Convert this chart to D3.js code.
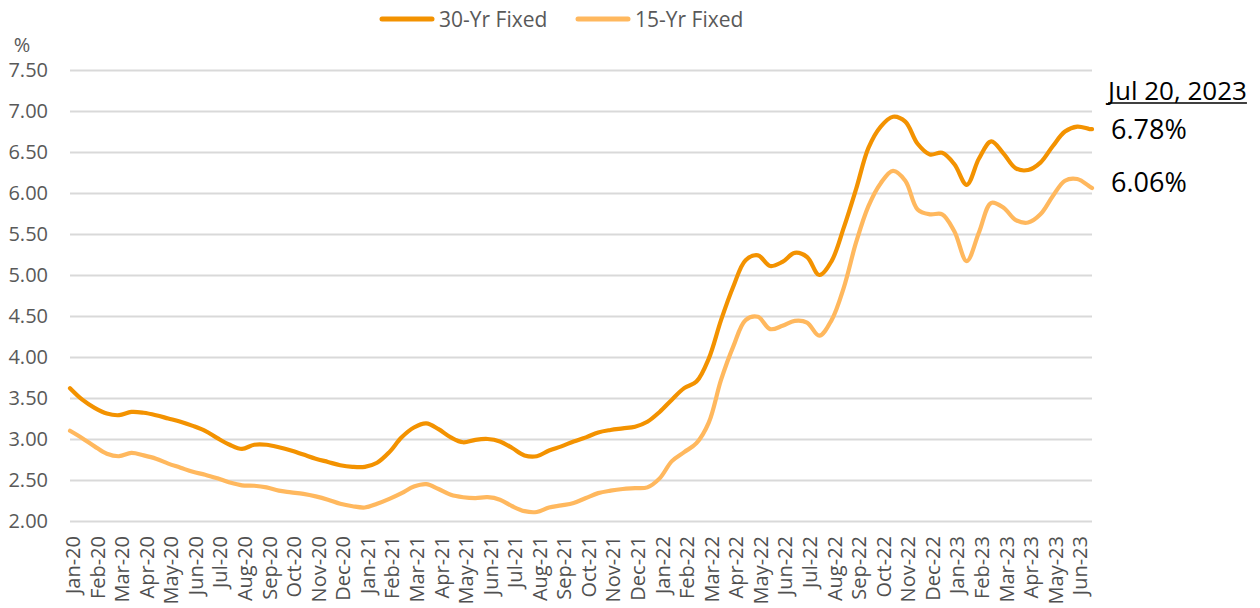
<!DOCTYPE html>
<html>
<head>
<meta charset="utf-8">
<script src="https://cdn.jsdelivr.net/npm/d3@7"></script>
<style>
  body { margin: 0; background: #fff; }
  text { font-family: "Open Sans", "Noto Sans", sans-serif; }
</style>
</head>
<body>
<div id="chart"></div>
<script>
var svgWidth = 1260;
var svgHeight = 608;

// month labels on the x axis
var months = ["Jan-20","Feb-20","Mar-20","Apr-20","May-20","Jun-20","Jul-20","Aug-20","Sep-20","Oct-20","Nov-20","Dec-20",
  "Jan-21","Feb-21","Mar-21","Apr-21","May-21","Jun-21","Jul-21","Aug-21","Sep-21","Oct-21","Nov-21","Dec-21",
  "Jan-22","Feb-22","Mar-22","Apr-22","May-22","Jun-22","Jul-22","Aug-22","Sep-22","Oct-22","Nov-22","Dec-22",
  "Jan-23","Feb-23","Mar-23","Apr-23","May-23","Jun-23"];

// position of each reading, in months since Jan-20 (half month steps, last one is Jul 20, 2023)
var pos = [0,0.5,1,1.5,2,2.5,3,3.5,4,4.5,5,5.5,6,6.5,7,7.5,8,8.5,9,9.5,
  10,10.5,11,11.5,12,12.5,13,13.5,14,14.5,15,15.5,16,16.5,17,17.5,18,18.5,19,19.5,
  20,20.5,21,21.5,22,22.5,23,23.5,24,24.5,25,25.5,26,26.5,27,27.5,28,28.5,29,29.5,
  30,30.5,31,31.5,32,32.5,33,33.5,34,34.5,35,35.5,36,36.5,37,37.5,38,38.5,39,39.5,
  40,40.5,41,41.5,41.6];

var rate30 = [3.62,3.48,3.38,3.31,3.29,3.33,3.32,3.29,3.25,3.21,
  3.16,3.10,3.01,2.93,2.88,2.93,2.93,2.90,2.86,2.81,
  2.76,2.72,2.68,2.66,2.66,2.71,2.84,3.02,3.14,3.19,
  3.12,3.02,2.96,2.99,3.00,2.97,2.89,2.80,2.79,2.86,
  2.91,2.97,3.02,3.08,3.11,3.13,3.15,3.21,3.33,3.48,
  3.62,3.70,3.98,4.45,4.86,5.18,5.24,5.11,5.16,5.27,
  5.22,5.00,5.17,5.58,6.05,6.55,6.81,6.93,6.87,6.60,
  6.47,6.49,6.35,6.10,6.42,6.63,6.48,6.30,6.28,6.37,
  6.57,6.75,6.81,6.78,6.78];

var rate15 = [3.10,3.01,2.91,2.82,2.79,2.83,2.80,2.76,2.70,2.65,
  2.60,2.565,2.52,2.47,2.435,2.43,2.41,2.37,2.35,2.33,
  2.30,2.26,2.21,2.18,2.165,2.21,2.27,2.34,2.42,2.45,
  2.39,2.32,2.29,2.28,2.29,2.26,2.18,2.12,2.11,2.165,
  2.19,2.22,2.28,2.34,2.37,2.39,2.40,2.41,2.52,2.73,
  2.84,2.95,3.20,3.72,4.13,4.45,4.49,4.34,4.38,4.44,
  4.42,4.26,4.45,4.85,5.40,5.84,6.12,6.27,6.15,5.80,
  5.74,5.74,5.53,5.17,5.52,5.88,5.82,5.67,5.64,5.74,
  5.96,6.15,6.17,6.08,6.06];

var yTicks = [2.0,2.5,3.0,3.5,4.0,4.5,5.0,5.5,6.0,6.5,7.0,7.5];

var seriesNames = ["30-Yr Fixed", "15-Yr Fixed"];
var colors = ["#f39200", "#ffb85e"];
var latestDate = "Jul 20, 2023";
var latestValues = ["6.78%", "6.06%"];

var svg = d3.select("#chart")
  .append("svg")
  .attr("width", svgWidth)
  .attr("height", svgHeight);

var x = d3.scaleLinear().domain([0, 41.6]).range([70, 1092]);
var y = d3.scaleLinear().domain([2, 7.5]).range([521, 70]);

// gridlines + y labels
var yAxis = d3.axisLeft(y)
  .tickValues(yTicks)
  .tickSize(-(1092 - 70))
  .tickPadding(22)
  .tickFormat(d3.format(".2f"));

var yg = svg.append("g")
  .attr("transform", "translate(70,0)")
  .call(yAxis);
yg.select(".domain").remove();
yg.selectAll(".tick line").attr("stroke", "#d9d9d9").attr("stroke-width", 2);
yg.selectAll(".tick text")
  .attr("fill", "#595959")
  .attr("font-size", "20px")
  .attr("font-family", "'Open Sans', sans-serif");

svg.append("text")
  .attr("x", 22)
  .attr("y", 52)
  .attr("text-anchor", "middle")
  .attr("fill", "#595959")
  .attr("font-size", "20px")
  .text("%");

// month labels
var xAxis = d3.axisBottom(x)
  .tickValues(d3.range(months.length))
  .tickSize(0)
  .tickFormat(function(d) { return months[d]; });

var xg = svg.append("g")
  .attr("transform", "translate(0,521)")
  .call(xAxis);
xg.select(".domain").remove();
xg.selectAll(".tick text")
  .attr("fill", "#505050")
  .attr("font-size", "20px")
  .attr("font-family", "'Open Sans', sans-serif")
  .attr("text-anchor", "end")
  .attr("dy", null)
  .attr("dominant-baseline", "central")
  .attr("transform", "translate(2,15) rotate(-90)")
  .attr("x", 0)
  .attr("y", 0);

// lines
var line = d3.line()
  .x(function(d) { return x(d[0]); })
  .y(function(d) { return y(d[1]); })
  .curve(d3.curveCatmullRom);

// light series first so the dark one sits on top
[1, 0].forEach(function(i) {
  var vals = i === 0 ? rate30 : rate15;
  var pts = pos.map(function(p, j) { return [p, vals[j]]; });
  svg.append("path")
    .datum(pts)
    .attr("fill", "none")
    .attr("stroke", colors[i])
    .attr("stroke-width", 4.2)
    .attr("stroke-linejoin", "round")
    .attr("stroke-linecap", "round")
    .attr("d", line);
});

// legend
var legendX = [382, 578];
seriesNames.forEach(function(name, i) {
  svg.append("line")
    .attr("x1", legendX[i]).attr("x2", legendX[i] + 50)
    .attr("y1", 19).attr("y2", 19)
    .attr("stroke", colors[i])
    .attr("stroke-width", 5)
    .attr("stroke-linecap", "round");
  svg.append("text")
    .attr("x", legendX[i] + 57)
    .attr("y", 19)
    .attr("dominant-baseline", "central")
    .attr("fill", "#595959")
    .attr("font-size", "21px")
    .text(name);
});

// latest value annotation
var dateText = svg.append("text")
  .attr("x", 1108)
  .attr("y", 100)
  .attr("fill", "#000")
  .attr("font-size", "26px")
  .text(latestDate);

var dateW = dateText.node().getComputedTextLength();
svg.append("line")
  .attr("x1", 1108).attr("x2", 1108 + dateW)
  .attr("y1", 103).attr("y2", 103)
  .attr("stroke", "#000").attr("stroke-width", 1.5);

latestValues.forEach(function(v, i) {
  svg.append("text")
    .attr("x", 1111)
    .attr("y", [139, 192][i])
    .attr("fill", "#000")
    .attr("font-size", "27px")
    .text(v);
});
</script>
</body>
</html>
